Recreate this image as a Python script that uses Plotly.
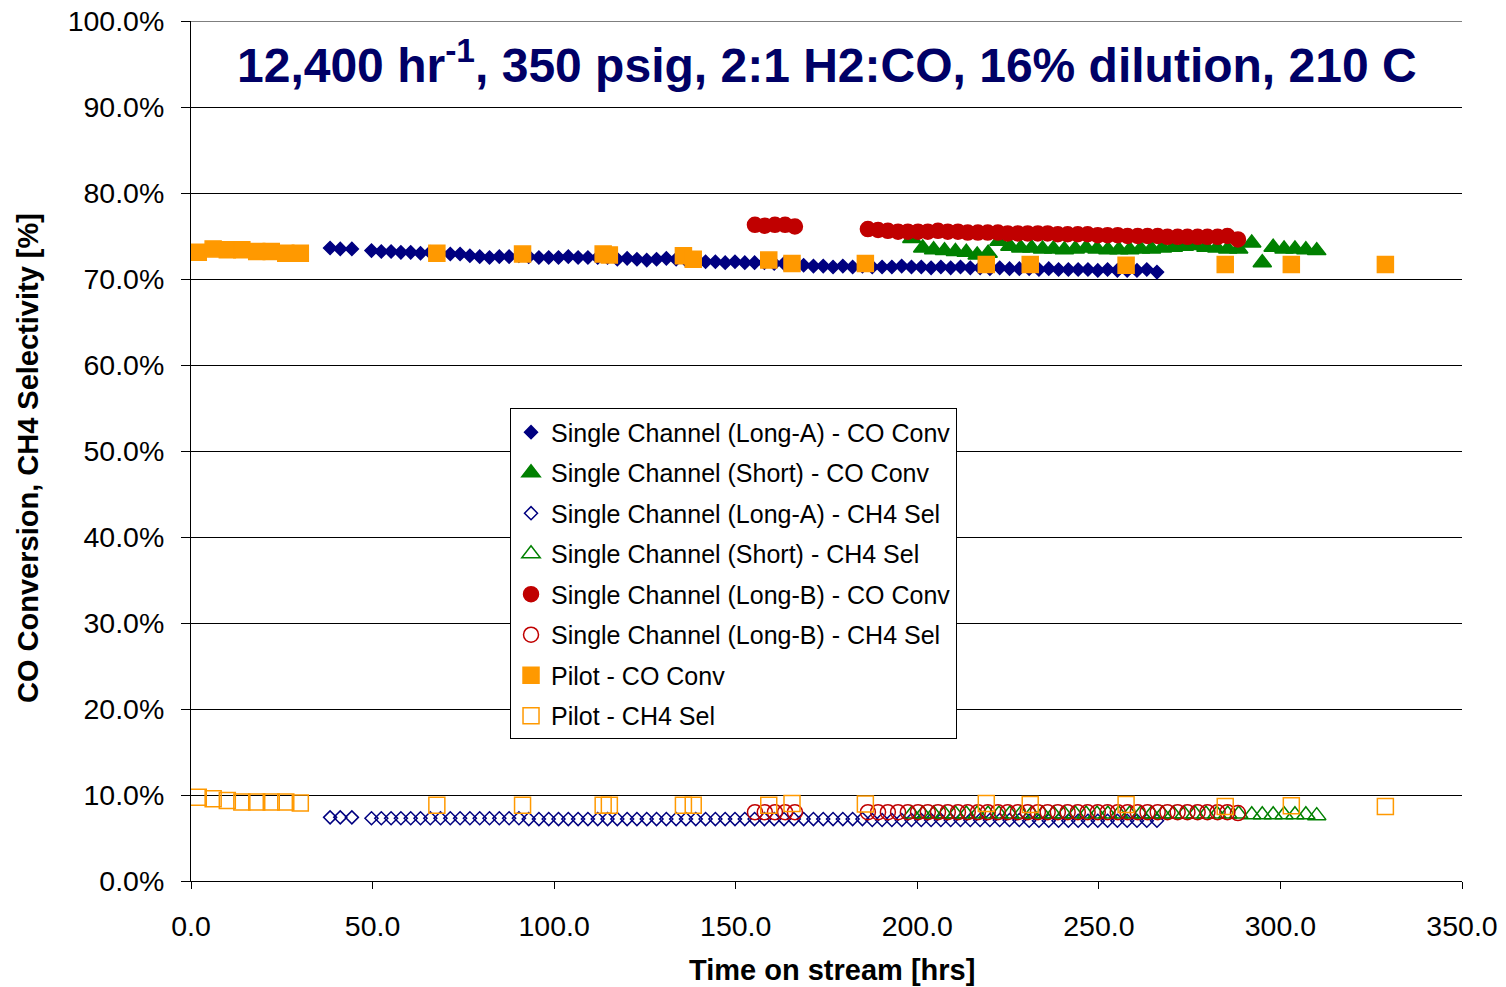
import plotly.graph_objects as go

# ---------------- data ----------------
longA_hrs = [38.3, 41.1, 44.3, 49.7, 52.4, 55.1, 57.8, 60.5, 63.2, 65.9, 68.7, 71.4, 74.1, 76.8,
             79.5, 82.2, 84.9, 87.6, 90.3, 93.0, 95.8, 98.5, 101.2, 103.9, 106.6, 109.3, 112.0,
             114.7, 117.4, 120.1, 122.8, 125.5, 128.2, 130.9, 133.6, 136.3, 139.0, 141.7, 144.4,
             147.1, 149.8, 152.5, 155.2, 157.9, 160.6, 163.3, 166.0, 168.7, 171.4, 174.1, 176.8,
             179.5, 182.2, 184.9, 187.6, 190.3, 193.0, 195.7, 198.4, 201.1, 203.8, 206.5, 209.2,
             211.9, 214.6, 217.3, 220.0, 222.7, 225.4, 228.1, 230.8, 233.5, 236.2, 238.9, 241.6,
             244.3, 247.0, 249.7, 252.4, 255.1, 257.8, 260.5, 263.2, 266.0]
longA_co = [73.6, 73.5, 73.5, 73.3, 73.2, 73.2, 73.1, 73.1, 73.0, 73.1, 73.0, 72.9, 72.9, 72.7,
            72.6, 72.5, 72.6, 72.6, 72.7, 72.6, 72.5, 72.5, 72.5, 72.6, 72.5, 72.5, 72.5,
            72.5, 72.3, 72.4, 72.3, 72.2, 72.3, 72.4, 72.3, 72.2, 72.2, 72.0, 72.0,
            71.9, 72.0, 71.9, 71.9, 71.9, 71.8, 71.8, 71.7, 71.6, 71.5, 71.5, 71.4,
            71.5, 71.4, 71.5, 71.4, 71.4, 71.4, 71.5, 71.4, 71.4, 71.3, 71.4, 71.3,
            71.4, 71.3, 71.3, 71.2, 71.3, 71.2, 71.2, 71.2, 71.1, 71.2, 71.1, 71.1,
            71.1, 71.1, 71.0, 71.1, 71.0, 71.0, 71.0, 71.1, 70.8]
longA_ch4 = [7.4, 7.4, 7.4, 7.3, 7.3, 7.3, 7.3, 7.3, 7.3, 7.3, 7.3, 7.3, 7.3, 7.3,
             7.3, 7.3, 7.3, 7.3, 7.3, 7.2, 7.2, 7.2, 7.2, 7.2, 7.2, 7.2, 7.2,
             7.2, 7.2, 7.2, 7.2, 7.2, 7.2, 7.2, 7.2, 7.2, 7.2, 7.2, 7.2,
             7.2, 7.2, 7.2, 7.2, 7.2, 7.2, 7.2, 7.2, 7.2, 7.2, 7.2, 7.2,
             7.2, 7.2, 7.2, 7.1, 7.1, 7.1, 7.1, 7.1, 7.1, 7.1, 7.1, 7.1,
             7.1, 7.1, 7.1, 7.1, 7.1, 7.1, 7.1, 7.0, 7.0, 7.0, 7.0, 7.0,
             7.0, 7.0, 7.0, 7.0, 7.0, 7.0, 7.0, 7.0, 7.0]

short_hrs = [198.5, 201.5, 204.5, 207.5, 210.5, 213.5, 216.5, 219.5, 222.5, 225.5, 228.5,
             231.5, 234.5, 237.5, 240.5, 243.5, 246.5, 249.5, 252.5, 255.5, 258.5, 261.5,
             264.5, 267.5, 270.5, 273.5, 276.5, 279.5, 282.5, 285.5, 288.5, 292.1, 295.0,
             298.0, 301.0, 304.0, 307.0, 310.0]
short_co = [74.7, 73.6, 73.4, 73.3, 73.2, 73.1, 72.8, 73.0, 74.4, 73.8, 73.6,
            73.6, 73.5, 73.5, 73.4, 73.5, 73.6, 73.5, 73.4, 73.4, 73.4, 73.5,
            73.5, 73.6, 73.7, 73.8, 73.9, 73.7, 73.6, 73.5, 73.5, 74.2, 71.9,
            73.7, 73.5, 73.5, 73.4, 73.3]
short_ch4 = [7.8, 7.8, 7.8, 7.8, 7.8, 7.8, 7.8, 7.8, 7.8, 7.8, 7.8,
             7.8, 7.8, 7.8, 7.8, 7.8, 7.8, 7.8, 7.8, 7.8, 7.8, 7.8,
             7.8, 7.8, 7.8, 7.8, 7.8, 7.8, 7.8, 7.8, 7.8, 7.7, 7.7,
             7.7, 7.7, 7.7, 7.7, 7.6]

longB_hrs = [155.3, 158.0, 160.8, 163.6, 166.3,
             186.4, 189.2, 191.9, 194.7, 197.4, 200.2, 202.9, 205.7, 208.4, 211.2, 213.9,
             216.7, 219.4, 222.2, 224.9, 227.7, 230.4, 233.2, 235.9, 238.7, 241.4, 244.2,
             246.9, 249.7, 252.4, 255.2, 257.9, 260.7, 263.4, 266.2, 268.9, 271.7, 274.4,
             277.2, 279.9, 282.7, 285.4, 288.3]
longB_co = [76.3, 76.2, 76.3, 76.3, 76.1,
            75.8, 75.7, 75.6, 75.5, 75.5, 75.5, 75.5, 75.6, 75.5, 75.5, 75.4,
            75.4, 75.4, 75.4, 75.3, 75.3, 75.3, 75.3, 75.3, 75.2, 75.2, 75.2,
            75.2, 75.1, 75.1, 75.1, 75.0, 75.0, 75.0, 75.0, 74.9, 74.9, 74.9,
            74.9, 74.9, 74.9, 75.0, 74.6]
longB_ch4 = [8.0, 8.0, 8.0, 8.0, 8.0,
             8.0, 8.0, 8.0, 8.0, 8.0, 8.0, 8.0, 8.0, 8.0, 8.0, 8.0,
             8.0, 8.0, 8.0, 8.0, 8.0, 8.0, 8.0, 8.0, 8.0, 8.0, 8.0,
             8.0, 8.0, 8.0, 8.0, 8.0, 8.0, 8.0, 8.0, 8.0, 8.0, 8.0,
             8.0, 8.0, 8.0, 8.0, 7.9]

pilot_hrs = [2.0, 6.1, 10.0, 14.0, 18.1, 22.1, 26.1, 30.1, 67.7, 91.3, 113.5, 115.2, 135.6,
             138.3, 159.1, 165.5, 185.7, 219.0, 231.1, 257.5, 284.8, 303.0, 328.9]
pilot_co = [73.1, 73.5, 73.4, 73.4, 73.2, 73.2, 73.0, 73.0, 73.0, 72.9, 72.9, 72.8, 72.7,
            72.3, 72.2, 71.8, 71.8, 71.7, 71.7, 71.6, 71.7, 71.7, 71.7]
pilot_ch4 = [9.75, 9.55, 9.36, 9.2, 9.2, 9.2, 9.2, 9.07, 8.8, 8.8, 8.8, 8.8, 8.8,
             8.8, 8.8, 9.0, 8.95, 9.0, 8.9, 8.9, 8.65, 8.75, 8.65]

x_ticks = [0, 50, 100, 150, 200, 250, 300, 350]
x_ticklabels = ["0.0", "50.0", "100.0", "150.0", "200.0", "250.0", "300.0", "350.0"]
y_ticks = [0, 10, 20, 30, 40, 50, 60, 70, 80, 90, 100]
y_ticklabels = ["0.0%", "10.0%", "20.0%", "30.0%", "40.0%", "50.0%", "60.0%", "70.0%",
                "80.0%", "90.0%", "100.0%"]

title_text = "12,400 hr<sup>-1</sup>, 350 psig, 2:1 H2:CO, 16% dilution, 210 C"
x_title = "Time on stream [hrs]"
y_title = "CO Conversion, CH4 Selectivity [%]"

NAVY = "#000080"
GREEN = "#008000"
RED = "#C00000"
ORANGE = "#FF9900"
FONT = "Liberation Sans, Arial, sans-serif"

series = [
    ("Single Channel (Long-A) - CO Conv", longA_hrs, longA_co, "diamond", NAVY, 10),
    ("Single Channel (Short) - CO Conv", short_hrs, short_co, "triangle-up", GREEN, 16),
    ("Single Channel (Long-A) - CH4 Sel", longA_hrs, longA_ch4, "diamond-open", NAVY, 10),
    ("Single Channel (Short) - CH4 Sel", short_hrs, short_ch4, "triangle-up-open", GREEN, 16),
    ("Single Channel (Long-B) - CO Conv", longB_hrs, longB_co, "circle", RED, 15),
    ("Single Channel (Long-B) - CH4 Sel", longB_hrs, longB_ch4, "circle-open", RED, 15),
    ("Pilot - CO Conv", pilot_hrs, pilot_co, "square", ORANGE, 16),
    ("Pilot - CH4 Sel", pilot_hrs, pilot_ch4, "square-open", ORANGE, 16),
]

fig = go.Figure()
for i, (name, xs, ys, sym, col, sz) in enumerate(series):
    fig.add_trace(go.Scatter(
        x=xs, y=ys, mode="markers", name=name, legendgroup=f"g{i}",
        marker=dict(symbol=sym, color=col, size=sz, line=dict(color=col, width=1.5)),
    ))

fig.update_layout(
    width=1506, height=987,
    margin=dict(l=191, r=44, t=21, b=106, autoexpand=False),
    paper_bgcolor="white", plot_bgcolor="white",
    font=dict(family=FONT, color="black"),
    showlegend=True,
    legend=dict(
        x=0.251, y=0.5495, xanchor="left", yanchor="top",
        bgcolor="white", bordercolor="black", borderwidth=1,
        font=dict(size=25, family=FONT, color="black"),
        traceorder="grouped", tracegroupgap=5,
        itemsizing="trace",
    ),
    xaxis=dict(
        range=[0, 350], tickvals=x_ticks, ticktext=x_ticklabels,
        showgrid=False, zeroline=False, automargin=False,
        showline=True, linecolor="black", linewidth=1,
        ticks="outside", ticklen=7, tickcolor="black",
        tickfont=dict(size=28.5, family=FONT), ticklabelstandoff=13,
    ),
    yaxis=dict(
        range=[0, 100], tickvals=y_ticks, ticktext=y_ticklabels,
        showgrid=True, gridcolor="black", gridwidth=1, zeroline=False, automargin=False,
        showline=True, linecolor="black", linewidth=1,
        ticks="outside", ticklen=9, tickcolor="black",
        tickfont=dict(size=28.5, family=FONT), ticklabelstandoff=11,
    ),
    shapes=[
        dict(type="line", xref="paper", yref="y", x0=0, x1=1, y0=100, y1=100,
             line=dict(color="black", width=1)),
    ],
    annotations=[
        dict(text=title_text, xref="paper", yref="paper", x=0.5, y=0.952,
             xanchor="center", yanchor="middle", showarrow=False,
             font=dict(size=48, family=FONT, color="#000066", weight="bold")),
        dict(text=x_title, xref="paper", yref="paper", x=0.504, y=-0.1035,
             xanchor="center", yanchor="middle", showarrow=False,
             font=dict(size=29, family=FONT, color="black", weight="bold")),
        dict(text=y_title, xref="paper", yref="paper", x=-0.1282, y=0.492,
             xanchor="center", yanchor="middle", showarrow=False, textangle=-90,
             font=dict(size=29, family=FONT, color="black", weight="bold")),
    ],
)

fig.write_html("out.html")
